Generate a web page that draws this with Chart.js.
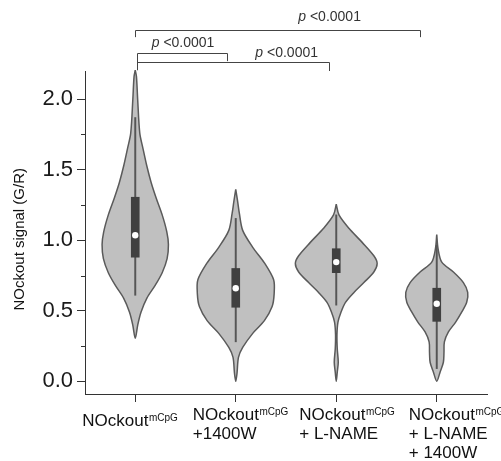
<!DOCTYPE html>
<html>
<head>
<meta charset="utf-8">
<script src="https://cdn.jsdelivr.net/npm/chart.js@4.4.0/dist/chart.umd.min.js"></script>
<style>
html, body { margin: 0; padding: 0; background: #fff; }
</style>
</head>
<body>
<canvas id="violin_graph" width="501" height="461"></canvas>
<script>
// groups (first line gets the mCpG superscript)
const groupLines = [
    ["NOckout"],
    ["NOckout", "+1400W"],
    ["NOckout", "+ L-NAME"],
    ["NOckout", "+ L-NAME", "+ 1400W"]
]
const superText = "mCpG"

const yTicks = [0, 0.5, 1.0, 1.5, 2.0]
const yMinorTicks = [0.25, 0.75, 1.25, 1.75]

// violin outlines: signal levels (top to bottom) and half width as fraction of a group slot
const levels1 = [2.206, 2.16, 2.00, 1.76, 1.65, 1.53, 1.41, 1.30, 1.18, 1.06, 0.97, 0.87, 0.77, 0.68, 0.59, 0.49, 0.40, 0.305]
const widths1 = [0, 0.012, 0.024, 0.045, 0.077, 0.114, 0.158, 0.208, 0.268, 0.314, 0.330, 0.317, 0.268, 0.198, 0.116, 0.057, 0.025, 0]
const levels2 = [1.36, 1.28, 1.19, 1.07, 0.95, 0.84, 0.72, 0.62, 0.53, 0.43, 0.34, 0.24, 0.17, 0.06, 0.0]
const widths2 = [0, 0.018, 0.036, 0.069, 0.169, 0.285, 0.377, 0.382, 0.362, 0.285, 0.169, 0.069, 0.027, 0.013, 0]
const levels3 = [1.255, 1.18, 1.085, 0.985, 0.89, 0.835, 0.775, 0.70, 0.63, 0.56, 0.49, 0.42, 0.33, 0.23, 0.135, 0.065, 0.0]
const widths3 = [0, 0.027, 0.126, 0.258, 0.374, 0.407, 0.374, 0.275, 0.176, 0.092, 0.047, 0.017, 0.007, 0.010, 0.020, 0.010, 0]
const levels4 = [1.04, 0.94, 0.845, 0.775, 0.70, 0.63, 0.56, 0.49, 0.42, 0.35, 0.28, 0.205, 0.135, 0.065, 0.0]
const widths4 = [0, 0.013, 0.050, 0.166, 0.265, 0.308, 0.298, 0.248, 0.188, 0.116, 0.076, 0.072, 0.066, 0.033, 0]

// box plot stats
const whiskerHigh = [1.87, 1.155, 1.18, 0.965]
const q3 = [1.305, 0.80, 0.94, 0.66]
const medians = [1.035, 0.66, 0.845, 0.55]
const q1 = [0.88, 0.525, 0.77, 0.425]
const whiskerLow = [0.61, 0.28, 0.54, 0.09]

// significance brackets (x in group index, y in signal units)
const brackets = [
    {from: 0, to: 2.833, y: 2.494, leftEnd: 2.44, rightEnd: 2.44, text: 1.622, textY: 2.553},
    {from: 0.018, to: 0.917, y: 2.328, leftEnd: 2.206, rightEnd: 2.27, text: 0.164, textY: 2.369},
    {from: 0.018, to: 1.93, y: 2.262, leftEnd: 2.206, rightEnd: 2.20, text: 1.195, textY: 2.298}
]
const pText = "<0.0001"

const FONT = "'Liberation Sans', Arial, sans-serif"

function outline(center, levels, widths){
    let pts = []
    for(let k = 0; k < levels.length; k++){
        pts.push({x: center + widths[k], y: levels[k]})
    }
    for(let k = levels.length - 2; k >= 0; k--){
        pts.push({x: center - widths[k], y: levels[k]})
    }
    return pts
}

const violinLevels = [levels1, levels2, levels3, levels4]
const violinWidths = [widths1, widths2, widths3, widths4]

let datasets = []
for(let i = 0; i < 4; i++){
    datasets.push({
        type: "scatter",
        data: outline(i, violinLevels[i], violinWidths[i]),
        showLine: true,
        fill: "shape",
        backgroundColor: "#c0c0c0",
        borderColor: "#5a5a5a",
        borderWidth: 1.5,
        pointRadius: 0,
        tension: 0.3,
        clip: false,
        order: 4
    })
}
datasets.push({
    type: "bar",
    data: whiskerLow.map((v, i) => ({x: i, y: [v, whiskerHigh[i]]})),
    backgroundColor: "#555555",
    barThickness: 1.3,
    grouped: false,
    order: 3
})
datasets.push({
    type: "bar",
    data: q1.map((v, i) => ({x: i, y: [v, q3[i]]})),
    backgroundColor: "#404040",
    barThickness: 8,
    grouped: false,
    order: 2
})
datasets.push({
    type: "scatter",
    data: medians.map((v, i) => ({x: i, y: v})),
    pointRadius: 3.2,
    pointBackgroundColor: "#ffffff",
    pointBorderWidth: 0,
    order: 1
})

const annotate = {
    id: "annotate",
    afterDraw(chart){
        const ctx = chart.ctx
        const x = chart.scales.x
        const y = chart.scales.y
        const area = chart.chartArea
        ctx.save()

        // minor y ticks
        ctx.strokeStyle = "#333"
        ctx.lineWidth = 1
        yMinorTicks.forEach(v => {
            let py = Math.round(y.getPixelForValue(v)) + 0.5
            ctx.beginPath()
            ctx.moveTo(area.left - 4, py)
            ctx.lineTo(area.left, py)
            ctx.stroke()
        })

        // y title
        ctx.save()
        ctx.translate(20, y.getPixelForValue(1.0) - 1)
        ctx.rotate(-Math.PI / 2)
        ctx.fillStyle = "#111"
        ctx.font = "15px " + FONT
        ctx.textAlign = "center"
        ctx.textBaseline = "middle"
        ctx.fillText("NOckout signal (G/R)", 0, 0)
        ctx.restore()

        // group labels
        const shifts = [-53, -43, -37, -28]
        ctx.fillStyle = "#111"
        ctx.textAlign = "left"
        ctx.textBaseline = "alphabetic"
        groupLines.forEach((lines, i) => {
            let left = x.getPixelForValue(i) + shifts[i]
            let base = lines.length === 1 ? area.bottom + 32 : area.bottom + 26
            lines.forEach((line, j) => {
                let by = base + j * 19
                ctx.font = "17px " + FONT
                ctx.fillText(line, left, by)
                if(j === 0){
                    let w = ctx.measureText(line).width
                    ctx.font = "10px " + FONT
                    ctx.fillText(superText, left + w + 0.5, by - 5)
                }
            })
        })

        // brackets
        ctx.strokeStyle = "#444"
        ctx.lineWidth = 1
        brackets.forEach(b => {
            let x0 = Math.round(x.getPixelForValue(b.from)) + 0.5
            let x1 = Math.round(x.getPixelForValue(b.to)) + 0.5
            let yy = Math.round(y.getPixelForValue(b.y)) + 0.5
            ctx.beginPath()
            ctx.moveTo(x0, y.getPixelForValue(b.leftEnd))
            ctx.lineTo(x0, yy)
            ctx.lineTo(x1, yy)
            ctx.lineTo(x1, y.getPixelForValue(b.rightEnd))
            ctx.stroke()

            let tx = x.getPixelForValue(b.text)
            let ty = y.getPixelForValue(b.textY)
            ctx.fillStyle = "#333"
            ctx.font = "italic 14px " + FONT
            ctx.fillText("p", tx, ty)
            let pw = ctx.measureText("p ").width
            ctx.font = "14px " + FONT
            ctx.fillText(pText, tx + pw, ty)
        })
        ctx.restore()
    }
}

const config = {
    type: "scatter",
    data: {datasets: datasets},
    options: {
        responsive: false,
        animation: false,
        devicePixelRatio: 1,
        layout: {padding: {top: 71, right: 14, left: 0, bottom: 0}},
        plugins: {
            legend: {display: false},
            tooltip: {enabled: false}
        },
        scales: {
            x: {
                type: "linear",
                min: -0.5,
                max: 3.5,
                offset: false,
                afterBuildTicks: s => { s.ticks = [0, 1, 2, 3].map(v => ({value: v})) },
                ticks: {callback: () => ""},
                grid: {drawOnChartArea: false, offset: false, tickLength: 8, color: "#333"},
                border: {color: "#333", width: 1},
                afterFit: s => { s.height = 67 }
            },
            y: {
                type: "linear",
                min: -0.09,
                max: 2.2,
                afterBuildTicks: s => { s.ticks = yTicks.map(v => ({value: v})) },
                ticks: {
                    callback: v => v.toFixed(1),
                    color: "#1a1a1a",
                    padding: 4,
                    font: {size: 22, family: FONT}
                },
                grid: {drawOnChartArea: false, tickLength: 8, color: "#333"},
                border: {color: "#333", width: 1},
                afterFit: s => { s.width = 85 }
            }
        }
    },
    plugins: [annotate]
}

const chart = new Chart(document.getElementById("violin_graph"), config)
</script>
</body>
</html>
